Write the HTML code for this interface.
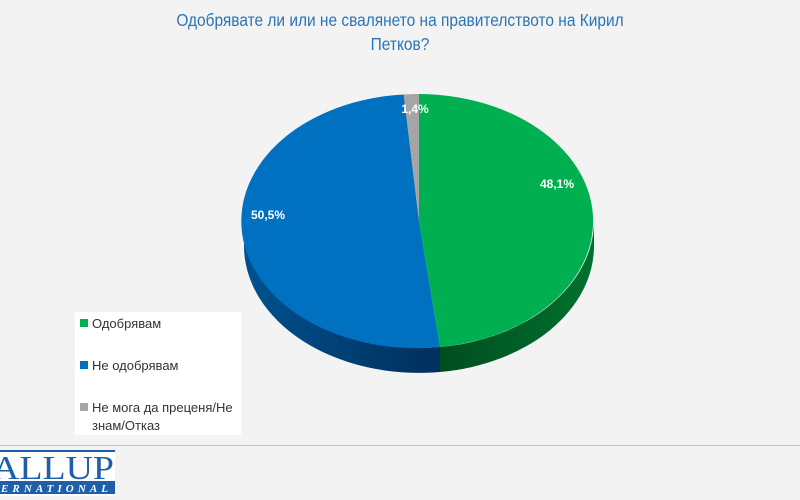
<!DOCTYPE html>
<html><head><meta charset="utf-8"><style>
html,body{margin:0;padding:0;background:#f3f3f3;}
svg{display:block}
</style></head><body>
<svg width="800" height="500" viewBox="0 0 800 500" xmlns="http://www.w3.org/2000/svg">
<defs>
<linearGradient id="gs" x1="0" x2="1" y1="0" y2="0">
<stop offset="0" stop-color="#004d1f"/><stop offset="1" stop-color="#00712f"/></linearGradient>
<linearGradient id="bs" x1="0" x2="1" y1="0" y2="0">
<stop offset="0" stop-color="#00518f"/><stop offset="1" stop-color="#002f5c"/></linearGradient>
</defs>
<rect width="800" height="500" fill="#f3f3f3"/>
<g font-family="'Liberation Sans',sans-serif" fill="#2a74b8" font-size="18" text-anchor="middle">
<text x="400" y="26" transform="translate(400 0) scale(0.86 1) translate(-400 0)">Одобрявате ли или не свалянето на правителството на Кирил</text>
<text x="400" y="50" transform="translate(400 0) scale(0.86 1) translate(-400 0)">Петков?</text>
</g>
<path d="M594,221 A175,127 0 0 1 440,347 L440,372 A175,127 0 0 0 594,246 Z" fill="url(#gs)"/>
<path d="M440,347 A175,127 0 0 1 244,221 L244,246 A175,127 0 0 0 440,372 Z" fill="url(#bs)"/>
<path d="M419,221 L419,94 A175,127 0 0 1 440,347 Z" fill="#00b050"/>
<path d="M419,221 L440,347 A175,127 0 1 1 403.7,94.5 Z" fill="#0070c0"/>
<path d="M419,221 L403.7,94.5 A175,127 0 0 1 419,94 Z" fill="#a5a5a5"/>
<g font-family="'Liberation Sans',sans-serif" fill="#fff" font-size="12" font-weight="bold" text-anchor="middle">
<text x="557" y="188">48,1%</text>
<text x="268" y="219">50,5%</text>
<text x="415" y="113">1,4%</text>
</g>
<rect x="75" y="312" width="166" height="123" fill="#fff"/>
<g font-family="'Liberation Sans',sans-serif" fill="#333" font-size="13">
<rect x="80" y="319" width="8" height="8" fill="#00b050"/><text x="92" y="328">Одобрявам</text>
<rect x="80" y="361" width="8" height="8" fill="#0070c0"/><text x="92" y="370">Не одобрявам</text>
<rect x="80" y="403" width="8" height="8" fill="#a5a5a5"/><text x="92" y="412">Не мога да преценя/Не</text>
<text x="92" y="430">знам/Отказ</text>
</g>
<line x1="0" y1="445.5" x2="800" y2="445.5" stroke="#c8c8c8" stroke-width="1"/>
<rect x="0" y="450" width="115" height="46" fill="#fff"/>
<rect x="0" y="450" width="115" height="2" fill="#1d5fa8"/>
<text x="-8" y="479" font-family="'Liberation Serif',serif" font-size="34" fill="#1d5fa8" textLength="122" lengthAdjust="spacingAndGlyphs">ALLUP</text>
<rect x="0" y="481" width="115" height="13" fill="#1d5fa8"/>
<text x="1" y="492" font-family="'Liberation Serif',serif" font-size="11" font-style="italic" font-weight="bold" fill="#fff" textLength="107" lengthAdjust="spacing">ERNATIONAL</text>
</svg>
</body></html>
